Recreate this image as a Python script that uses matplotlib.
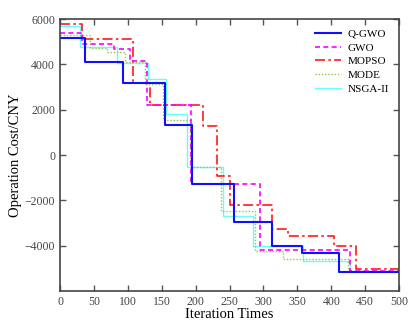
import matplotlib
matplotlib.use("Agg")
import matplotlib.pyplot as plt

# step points (iteration where the level starts, cost level)
qgwo_iter = [0, 37, 93, 155, 194, 257, 312, 357, 411]
qgwo_cost = [5150, 4100, 3200, 1350, -1280, -2950, -4000, -4330, -5160]

gwo_iter = [0, 33, 80, 103, 128, 193, 295, 428]
gwo_cost = [5380, 4890, 4700, 4145, 2200, -1260, -4200, -5090]

mopso_iter = [0, 32, 107, 132, 211, 231, 250, 312, 336, 404, 437]
mopso_cost = [5800, 5110, 3200, 2200, 1300, -900, -2200, -3250, -3550, -4000, -5010]

mode_iter = [0, 44, 69, 96, 126, 152, 192, 237, 287, 329, 425]
mode_cost = [5320, 4705, 4530, 4100, 3120, 1540, -515, -2460, -4207, -4600, -5090]

nsga_iter = [0, 30, 84, 130, 156, 187, 241, 284, 359, 428]
nsga_cost = [5700, 4780, 4080, 3340, 1830, -545, -2670, -3990, -4680, -5090]

x_ticks = [0, 50, 100, 150, 200, 250, 300, 350, 400, 450, 500]
y_ticks = [-4000, -2000, 0, 2000, 4000, 6000]

plt.rcParams['font.family'] = ['Liberation Serif', 'DejaVu Serif']
plt.rcParams['mathtext.fontset'] = 'stix'

fig = plt.figure(figsize=(4.11, 3.29), dpi=100)
ax = fig.add_axes([0.146, 0.115, 0.825, 0.827])


def ext(it, c):
    # extend last level to the end of the run
    return it + [500], c + [c[-1]]


series = [
    (qgwo_iter, qgwo_cost, 'Q-GWO', dict(color='#1010ff', lw=1.5, ls='-')),
    (gwo_iter, gwo_cost, 'GWO', dict(color='#ff00ff', lw=1.2, ls=(0, (3, 2)))),
    (mopso_iter, mopso_cost, 'MOPSO', dict(color='#ff1a1a', lw=1.2, ls=(0, (6, 2, 1.5, 2)))),
    (mode_iter, mode_cost, 'MODE', dict(color='#94c83a', lw=1.0, ls=(0, (1, 1.3)))),
    (nsga_iter, nsga_cost, 'NSGA-II', dict(color='#66ffff', lw=1.0, ls='-')),
]

# draw back to front so the blue line stays on top
for it, c, name, st in reversed(series):
    xs, ys = ext(it, c)
    ax.step(xs, ys, where='post', label=name, **st)

ax.set_xlim(0, 500)
ax.set_ylim(-6000, 6000)
ax.set_xticks(x_ticks)
ax.set_yticks(y_ticks)
ax.tick_params(direction='in', top=True, right=True, labelsize=8.5,
               colors='#555555', labelcolor='#444444', length=4, width=1)
for sp in ax.spines.values():
    sp.set_color('#444444')
    sp.set_linewidth(1.2)

ax.set_xlabel('Iteration Times', fontsize=10.5, labelpad=0)
ax.set_ylabel('Operation Cost/CNY', fontsize=10.5, labelpad=2)

handles, labels = ax.get_legend_handles_labels()
order = ['Q-GWO', 'GWO', 'MOPSO', 'MODE', 'NSGA-II']
hmap = dict(zip(labels, handles))
ax.legend([hmap[k] for k in order], order, loc='upper right',
          bbox_to_anchor=(1.0, 1.0), frameon=False, fontsize=8,
          handlelength=2.3, labelspacing=0.35, handletextpad=0.6)

fig.savefig('out.png', dpi=100)
